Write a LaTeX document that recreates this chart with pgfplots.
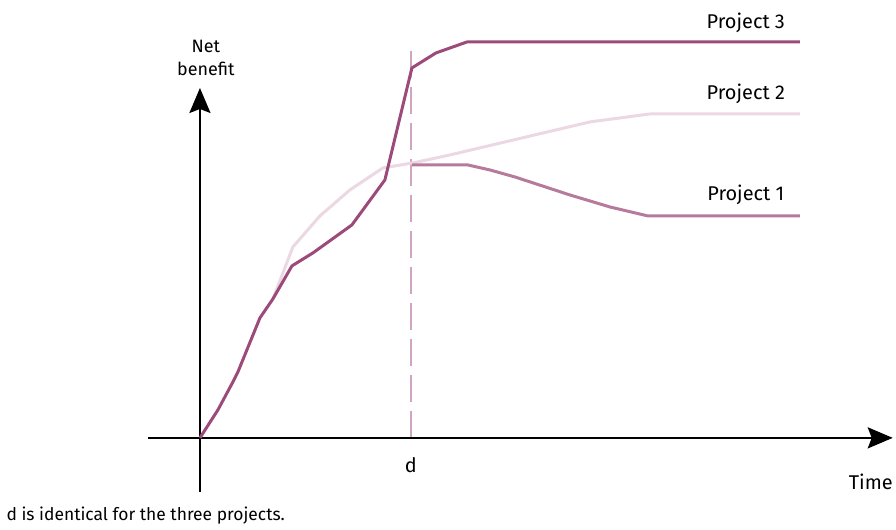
\documentclass[border=0pt]{standalone}
\usepackage{pgfplots}
\pgfplotsset{compat=1.18}
\usetikzlibrary{arrows.meta}
\usepackage{fontspec}
\setmainfont{Fira Sans}
\definecolor{pthree}{HTML}{9C4A7A}
\definecolor{ptwo}{HTML}{EBD8E2}
\definecolor{pone}{HTML}{B67A9D}
\definecolor{dline}{HTML}{CFA5BF}
\begin{document}
\begin{tikzpicture}
\begin{axis}[x=1bp,y=1bp,xmin=0,xmax=896,ymin=0,ymax=530,hide axis,clip=false,
  scale only axis]
\draw[draw=none] (axis cs:0,0) rectangle (axis cs:896,530);
\draw[dline,line width=2bp,dash pattern=on 27bp off 9bp] (axis cs:411,92) -- (axis cs:411,483);
\draw[line width=2.5bp,-{Stealth[length=25bp,width=21bp,inset=4bp]}] (axis cs:148,92) -- (axis cs:893,92);
\draw[line width=2.5bp,-{Stealth[length=25bp,width=21bp,inset=4bp]}] (axis cs:200,38) -- (axis cs:200,442);
\addplot[ptwo,line width=3bp,line join=round] coordinates {(273,231)(293,283)(320,314)(350,340)(383,362)(413,367)(450,375)(590,408)(650,416)(800,416)};
\addplot[pone,line width=3bp,line join=round] coordinates {(412,365)(468,365)(490,360)(515,353)(570,335)(610,323)(648,314)(800,314)};
\addplot[pthree,line width=3bp,line join=round] coordinates {(200,92)(218,120)(233,148)(238,158)(260,212)(273,231)(292,264)(313,277)(352,305)(385,350)(412,462)(436,477)(467,488)(800,488)};
\node[align=center,font=\fontsize{18}{24}\selectfont] at (axis cs:206,472) {Net\\benefit};
\node[font=\fontsize{20}{24}\selectfont] at (axis cs:746,507) {Project 3};
\node[font=\fontsize{20}{24}\selectfont] at (axis cs:746,436) {Project 2};
\node[font=\fontsize{20}{24}\selectfont] at (axis cs:746,335) {Project 1};
\node[font=\fontsize{20}{24}\selectfont] at (axis cs:411,65) {d};
\node[font=\fontsize{20}{24}\selectfont] at (axis cs:871,48) {Time};
\node[anchor=west,font=\fontsize{17.5}{20}\selectfont] at (axis cs:3,14) {d is identical for the three projects.};
\end{axis}
\end{tikzpicture}
\end{document}
